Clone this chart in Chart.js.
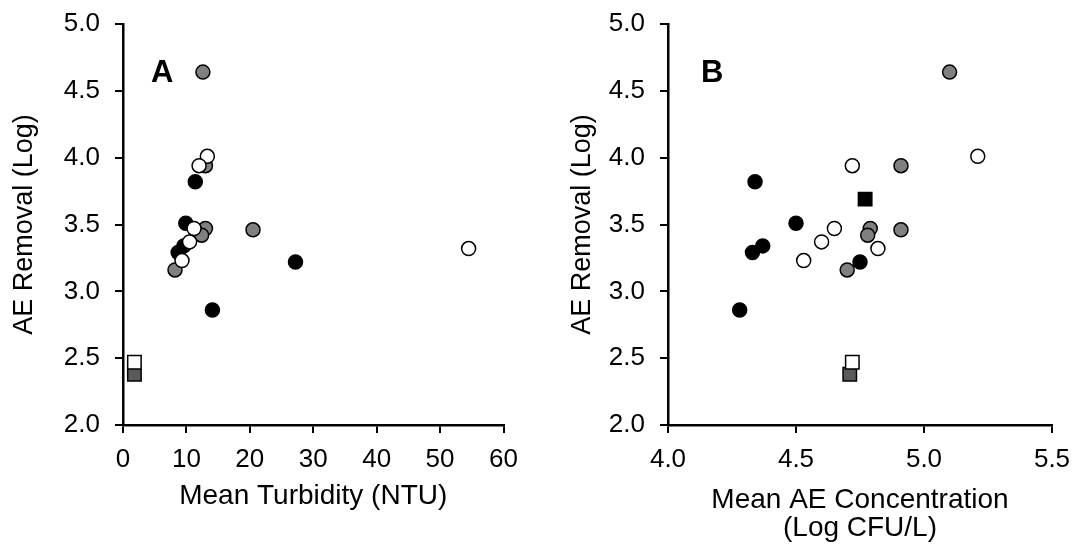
<!DOCTYPE html>
<html>
<head>
<meta charset="utf-8">
<title>AE removal scatter</title>
<script src="https://cdn.jsdelivr.net/npm/chart.js@4.4.1/dist/chart.umd.min.js"></script>
<style>
  html, body { margin: 0; padding: 0; background: #fff; }
  #wrap { position: relative; width: 1073px; height: 546px; }
  .panel { position: absolute; top: 0; height: 546px; }
  #panelA { left: 0; width: 540px; }
  #panelB { left: 540px; width: 533px; }
</style>
</head>
<body>
<div id="wrap">
  <div class="panel" id="panelA"><canvas id="chartA"></canvas></div>
  <div class="panel" id="panelB"><canvas id="chartB"></canvas></div>
</div>
<script>
// AE removal (log) per site group
const removalBlack = [3.82, 3.51, 3.34, 3.29, 3.22, 2.86];
const removalGray = [4.64, 3.94, 3.47, 3.42, 3.46, 3.16];
const removalWhite = [4.01, 3.94, 3.47, 3.37, 3.23, 3.32];
const removalSqWhite = [2.47];
const removalSqGray = [2.38];
const removalSqBlack = [3.69];

// panel A: mean turbidity (NTU)
const turbBlack = [11.4, 9.9, 9.6, 8.7, 27.2, 14.1];
const turbGray = [12.6, 13.0, 13.0, 12.4, 20.5, 8.2];
const turbWhite = [13.3, 12.0, 11.2, 10.5, 9.3, 54.5];
const turbSqWhite = [1.8];
const turbSqGray = [1.8];

// panel B: mean AE concentration (log CFU/L)
const concBlack = [4.34, 4.50, 4.37, 4.33, 4.75, 4.28];
const concGray = [5.10, 4.91, 4.79, 4.78, 4.91, 4.70];
const concWhite = [5.21, 4.72, 4.65, 4.60, 4.53, 4.82];
const concSqWhite = [4.72];
const concSqGray = [4.71];
const concSqBlack = [4.77];

const turbTicks = [0, 10, 20, 30, 40, 50, 60];
const turbMinor = [0, 5, 10, 15, 20, 25, 30, 35, 40, 45, 50, 55, 60];
const concTicks = [4.0, 4.5, 5.0, 5.5];
const removalTicks = [2.0, 2.5, 3.0, 3.5, 4.0, 4.5, 5.0];

const FONT = "'Liberation Sans', Arial, Helvetica, sans-serif";
const GRAY = "#808080";
const GRAY_DK = "#5a5a5a";

function zip(xs, ys) {
  return xs.map((x, i) => ({ x: x, y: ys[i] }));
}

function marks(xs, ys, fill, style) {
  return {
    data: zip(xs, ys),
    pointStyle: style,
    pointRadius: style === "rect" ? 9.5 : 7,
    pointBackgroundColor: fill,
    pointBorderColor: "#000",
    pointBorderWidth: 1.5,
    clip: false
  };
}

// panel letter drawn inside the plot area
const panelLetter = {
  id: "panelLetter",
  afterDraw(chart, args, opts) {
    const { ctx, chartArea } = chart;
    ctx.save();
    ctx.font = "bold 31px " + FONT;
    ctx.fillStyle = "#000";
    ctx.textBaseline = "alphabetic";
    ctx.fillText(opts.text, chartArea.left + opts.dx, chartArea.top + opts.dy);
    ctx.restore();
  }
};

// fixed axis boxes; label overflow must not shrink the plot area
function fixBox(size) {
  return (s) => {
    if (s.isHorizontal()) s.height = size; else s.width = size;
    s.paddingLeft = s.paddingRight = s.paddingTop = s.paddingBottom = 0;
  };
}

function axisStyle() {
  return {
    type: "linear",
    border: { display: true, color: "#000", width: 2.5 },
    grid: { drawOnChartArea: false, drawTicks: true, tickLength: 8, color: "#000", lineWidth: 2 },
    ticks: { color: "#000", font: { family: FONT, size: 26 } }
  };
}

function makeOptions(cfg) {
  const x = axisStyle();
  const y = axisStyle();
  return {
    responsive: true,
    maintainAspectRatio: false,
    animation: false,
    layout: { padding: { left: 0, right: cfg.padRight, top: 24, bottom: 0 } },
    plugins: {
      legend: { display: false },
      tooltip: { enabled: false },
      panelLetter: { text: cfg.letter, dx: cfg.letterDx, dy: 58 }
    },
    scales: {
      x: Object.assign(x, {
        min: cfg.xMin,
        max: cfg.xMax,
        afterFit: fixBox(121),
        afterBuildTicks: (s) => { s.ticks = cfg.xTicks.map((v) => ({ value: v })); },
        ticks: Object.assign(x.ticks, {
          padding: 11,
          maxRotation: 0,
          callback: (v) => cfg.xFmt(v)
        }),
        title: {
          display: true,
          text: cfg.xTitle,
          color: "#000",
          font: { family: FONT, size: 28, lineHeight: 1.0 },
          padding: { top: 0, bottom: cfg.xTitlePad }
        }
      }),
      y: Object.assign(y, {
        min: 2.0,
        max: 5.0,
        afterFit: fixBox(cfg.yWidth),
        afterBuildTicks: (s) => { s.ticks = removalTicks.map((v) => ({ value: v })); },
        ticks: Object.assign(y.ticks, {
          padding: 15,
          callback: (v) => v.toFixed(1)
        }),
        title: {
          display: true,
          text: "AE Removal (Log)",
          color: "#000",
          font: { family: FONT, size: 27, lineHeight: 1.0 },
          padding: { top: cfg.yTitlePad, bottom: 0 }
        }
      })
    }
  };
}

new Chart(document.getElementById("chartA"), {
  type: "scatter",
  data: {
    datasets: [
      marks(turbWhite, removalWhite, "#fff", "circle"),
      marks(turbGray, removalGray, GRAY, "circle"),
      marks(turbBlack, removalBlack, "#000", "circle"),
      marks(turbSqWhite, removalSqWhite, "#fff", "rect"),
      marks(turbSqGray, removalSqGray, GRAY_DK, "rect")
    ]
  },
  options: makeOptions({
    letter: "A",
    letterDx: 28,
    xMin: 0, xMax: 60,
    xTicks: turbMinor,
    xFmt: (v) => (turbTicks.includes(v) ? String(v) : ""),
    xTitle: "Mean Turbidity (NTU)",
    xTitlePad: 36,
    yWidth: 123,
    yTitlePad: 11,
    padRight: 36.5
  }),
  plugins: [panelLetter]
});

new Chart(document.getElementById("chartB"), {
  type: "scatter",
  data: {
    datasets: [
      marks(concWhite, removalWhite, "#fff", "circle"),
      marks(concGray, removalGray, GRAY, "circle"),
      marks(concBlack, removalBlack, "#000", "circle"),
      marks(concSqWhite, removalSqWhite, "#fff", "rect"),
      marks(concSqGray, removalSqGray, GRAY_DK, "rect"),
      marks(concSqBlack, removalSqBlack, "#000", "rect")
    ]
  },
  options: makeOptions({
    letter: "B",
    letterDx: 33,
    xMin: 4.0, xMax: 5.5,
    xTicks: concTicks,
    xFmt: (v) => v.toFixed(1),
    xTitle: ["Mean AE Concentration", "(Log CFU/L)"],
    xTitlePad: 4,
    yWidth: 128,
    yTitlePad: 29,
    padRight: 21
  }),
  plugins: [panelLetter]
});
</script>
</body>
</html>
